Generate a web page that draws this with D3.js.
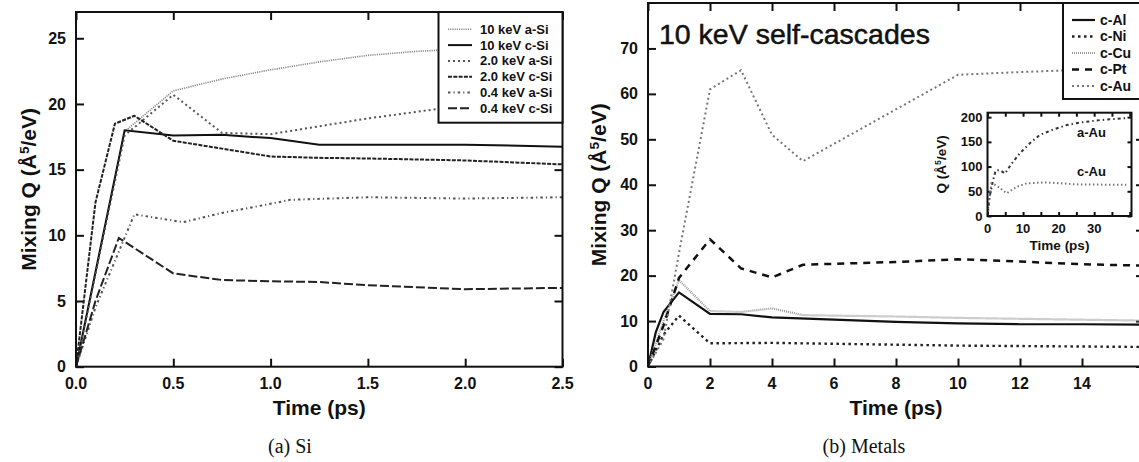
<!DOCTYPE html>
<html><head><meta charset="utf-8">
<script src="https://cdn.jsdelivr.net/npm/d3@7"></script>
<style>body{margin:0;background:#fff}svg{display:block}text{font-family:"Liberation Sans",Arial,sans-serif}text.cap{font-family:"Liberation Serif","DejaVu Serif",serif}</style>
</head><body>
<svg id="c" width="1139" height="462"></svg>
<script>
// ---------- DATA ----------
// Panel (a) Si : [time ps, Q]
const si10a = [[0,0],[0.25,17.9],[0.5,21.0],[0.75,21.9],[1.0,22.6],[1.25,23.2],[1.5,23.7],[1.75,24.0],[2.0,24.2],[2.25,24.5],[2.5,24.7]];
const si10c = [[0,0],[0.25,18.0],[0.5,17.6],[0.75,17.65],[1.0,17.4],[1.25,16.9],[1.5,16.9],[2.0,16.9],[2.5,16.75]];
const si2a  = [[0,0],[0.25,17.6],[0.5,20.7],[0.75,17.8],[1.0,17.7],[1.25,18.3],[1.5,18.9],[1.75,19.4],[2.0,19.9],[2.25,20.3],[2.5,20.6]];
const si2c  = [[0,0],[0.1,12.5],[0.2,18.5],[0.3,19.1],[0.5,17.2],[0.75,16.6],[1.0,16.0],[1.25,15.9],[1.5,15.85],[2.0,15.7],[2.5,15.4]];
const si04a = [[0,0],[0.1,4.5],[0.3,11.6],[0.55,11.0],[0.75,11.7],[1.0,12.4],[1.1,12.7],[1.5,12.9],[2.0,12.8],[2.5,12.9]];
const si04c = [[0,0],[0.1,5.0],[0.22,9.8],[0.5,7.1],[0.75,6.6],[1.0,6.5],[1.25,6.45],[1.5,6.2],[1.75,6.05],[2.0,5.9],[2.25,5.95],[2.5,6.0]];
const siNames = ["10 keV a-Si","10 keV c-Si","2.0 keV a-Si","2.0 keV c-Si","0.4 keV a-Si","0.4 keV c-Si"];
const siXTicks = [0,0.5,1.0,1.5,2.0,2.5];
const siYTicks = [0,5,10,15,20,25];

// Panel (b) Metals
const mAl = [[0,0],[0.25,7.5],[0.5,12],[1,16.3],[2,11.6],[3,11.5],[4,10.8],[6,10.3],[8,9.8],[10,9.5],[12,9.3],[14,9.3],[16,9.2]];
const mNi = [[0,0],[0.5,7],[1,11.2],[2,5.1],[4,5.2],[6,5.0],[8,4.8],[10,4.6],[12,4.5],[14,4.4],[16,4.3]];
const mCu = [[0,0],[0.5,10],[1,19],[2,12.2],[3,12],[4,12.8],[5,11.3],[6,11.2],[8,11],[10,10.7],[12,10.5],[14,10.3],[16,10.1]];
const mPt = [[0,0],[0.5,9],[1,19.5],[2,28],[3,21.6],[4,19.6],[5,22.4],[6,22.6],[8,23],[10,23.6],[12,23.1],[14,22.5],[16,22.2]];
const mAu = [[0,0],[0.5,6],[1,25],[2,61],[3,65.2],[4,51],[5,45.2],[10,64.2],[12,64.8],[14,65.3],[16,65.8]];
const mNames = ["c-Al","c-Ni","c-Cu","c-Pt","c-Au"];
const mXTicks = [0,2,4,6,8,10,12,14,16];
const mXLabels = [0,2,4,6,8,10,12,14];
const mYTicks = [0,10,20,30,40,50,60,70];

// Inset
const inAAu = [[0,0],[0.2,12],[0.6,39],[1.6,73],[2.3,92],[3.5,93],[4.9,86],[6.8,106],[9.1,127],[11.9,147],[14.7,164],[18.5,175],[22.3,184],[26,189],[31.6,194],[39,198]];
const inCAu = [[0,0],[0.2,18],[1.1,66],[2.5,62],[5.4,46],[8.2,59],[11,66],[16.6,68],[25,64],[39,63]];
const inNames = ["a-Au","c-Au"];
const inXTicks = [0,5,10,15,20,25,30,35,40];
const inXLabels = [0,10,20,30];
const inYTicks = [0,50,100,150,200];

// ---------- DRAW ----------
const svg = d3.select("#c");
let clipId = 0;

function panel(o){
  const x = d3.scaleLinear().domain(o.xd).range([o.x0,o.x1]);
  const y = d3.scaleLinear().domain(o.yd).range([o.y1,o.y0]);
  const g = svg.append("g");
  const id = "clip"+(clipId++);
  svg.append("clipPath").attr("id",id).append("rect")
    .attr("x",o.x0).attr("y",o.y0).attr("width",o.x1-o.x0).attr("height",o.y1-o.y0);
  const tl = o.tick;
  const ax = (gen, tr, vals) => {
    const a = g.append("g").attr("transform",tr).call(gen.tickValues(vals).tickSizeInner(-tl).tickSizeOuter(0).tickFormat(""));
    a.select(".domain").remove();
    a.selectAll("line").attr("stroke","#111").attr("stroke-width",o.sw);
  };
  ax(d3.axisBottom(x), `translate(0,${o.y1})`, o.xt);
  ax(d3.axisTop(x), `translate(0,${o.y0})`, o.xt);
  ax(d3.axisLeft(y), `translate(${o.x0},0)`, o.yt);
  ax(d3.axisRight(y), `translate(${o.x1},0)`, o.yt);
  g.selectAll(null).data(o.xl).join("text")
    .attr("x",d=>x(d)).attr("y",o.y1+o.xlOff).attr("text-anchor","middle")
    .attr("font-size",o.fs).attr("font-weight","bold").attr("fill","#111").text(o.xf);
  g.selectAll(null).data(o.yt).join("text")
    .attr("x",o.x0-o.ylOff).attr("y",d=>y(d)).attr("dy","0.35em").attr("text-anchor","end")
    .attr("font-size",o.fs).attr("font-weight","bold").attr("fill","#111").text(d=>d);
  const line = d3.line().x(d=>x(d[0])).y(d=>y(d[1]));
  o.series.forEach(s=>{
    g.append("path").attr("d",line(s.data)).attr("fill","none")
      .attr("stroke",s.c).attr("stroke-width",s.w).attr("stroke-dasharray",s.dash||null)
      .attr("clip-path",`url(#${id})`);
  });
  g.append("rect").attr("x",o.x0).attr("y",o.y0).attr("width",o.x1-o.x0).attr("height",o.y1-o.y0)
    .attr("fill","none").attr("stroke","#111").attr("stroke-width",o.sw);
  g.append("text").attr("x",(o.x0+o.x1)/2).attr("y",o.y1+o.xtOff).attr("text-anchor","middle")
    .attr("font-size",o.tfs).attr("font-weight","bold").attr("fill","#111").text("Time (ps)");
  const yt = g.append("text").attr("transform",`translate(${o.ytx},${(o.y0+o.y1)/2}) rotate(-90)`)
    .attr("text-anchor","middle").attr("font-size",o.tfs).attr("font-weight","bold").attr("fill","#111");
  yt.append("tspan").text(o.yPre+" (Å");
  yt.append("tspan").attr("baseline-shift","super").attr("font-size",o.tfs*0.65).text("5");
  yt.append("tspan").text("/eV)");
  return {x,y,g};
}

// Panel (a)
const siStyles = [
  {c:"#8a8a8a",w:1.6,dash:"1.2,1"},
  {c:"#111",w:2},
  {c:"#555",w:2,dash:"2,3"},
  {c:"#222",w:2,dash:"4,1.3"},
  {c:"#555",w:2,dash:"2.5,3,1.2,3"},
  {c:"#222",w:2,dash:"9,3"}
];
const siData = [si10a,si10c,si2a,si2c,si04a,si04c];
panel({x0:76,x1:562.5,y0:12,y1:366.7,xd:[0,2.5],yd:[0,27],xt:siXTicks,xl:siXTicks,yt:siYTicks,
  xf:d=>d3.format(".1f")(d),tick:8,sw:2,fs:16,tfs:21,xlOff:22,ylOff:10,xtOff:48,ytx:36,yPre:"Mixing Q",
  series:siData.map((d,i)=>Object.assign({data:d},siStyles[i]))});

const lgA = svg.append("g");
lgA.append("rect").attr("x",438.5).attr("y",12).attr("width",124).attr("height",110.7)
  .attr("fill","#fff").attr("stroke","#111").attr("stroke-width",2);
siNames.forEach((n,i)=>{
  const yy = 29.3 + i*15.8;
  lgA.append("line").attr("x1",448).attr("x2",472).attr("y1",yy).attr("y2",yy)
    .attr("stroke",siStyles[i].c).attr("stroke-width",siStyles[i].w).attr("stroke-dasharray",siStyles[i].dash||null);
  lgA.append("text").attr("x",480).attr("y",yy).attr("dy","0.35em").attr("font-size",13)
    .attr("font-weight","bold").attr("fill","#111").text(n);
});

// Panel (b)
const mStyles = [
  {c:"#111",w:2.2},
  {c:"#222",w:2.4,dash:"2.5,3.5"},
  {c:"#9a9a9a",w:2.2,dash:"1,1"},
  {c:"#111",w:2.5,dash:"7,6"},
  {c:"#777",w:2,dash:"2,3"}
];
const mData = [mAl,mNi,mCu,mPt,mAu];
panel({x0:648,x1:1144,y0:3,y1:366.5,xd:[0,16],yd:[0,80],xt:mXTicks,xl:mXLabels,yt:mYTicks,
  xf:d=>d,tick:8,sw:2,fs:16,tfs:21,xlOff:22,ylOff:10,xtOff:48,ytx:606,yPre:"Mixing Q",
  series:mData.map((d,i)=>Object.assign({data:d},mStyles[i]))});

svg.append("text").attr("x",659).attr("y",44).attr("font-size",28.5).attr("fill","#111")
  .attr("stroke","#111").attr("stroke-width",0.5).text("10 keV self-cascades");

const lgB = svg.append("g");
lgB.append("rect").attr("x",1063).attr("y",3).attr("width",90).attr("height",96)
  .attr("fill","#fff").attr("stroke","#111").attr("stroke-width",2);
mNames.forEach((n,i)=>{
  const yy = 20 + i*16.5;
  lgB.append("line").attr("x1",1072).attr("x2",1095).attr("y1",yy).attr("y2",yy)
    .attr("stroke",mStyles[i].c).attr("stroke-width",mStyles[i].w).attr("stroke-dasharray",mStyles[i].dash||null);
  lgB.append("text").attr("x",1100).attr("y",yy).attr("dy","0.35em").attr("font-size",14)
    .attr("font-weight","bold").attr("fill","#111").text(n);
});

// Inset
const inStyles = [{c:"#333",w:2,dash:"3,3,1.5,3"},{c:"#777",w:2,dash:"1.5,2.5"}];
svg.append("rect").attr("x",987.5).attr("y",112.7).attr("width",144).attr("height",103.3).attr("fill","#fff");
const ins = panel({x0:987.5,x1:1131.5,y0:112.7,y1:216,xd:[0,40.5],yd:[0,209],xt:inXTicks,xl:inXLabels,yt:inYTicks,
  xf:d=>d,tick:4,sw:2,fs:13,tfs:13.5,xlOff:17,ylOff:5,xtOff:34,ytx:946,yPre:"Q",
  series:[inAAu,inCAu].map((d,i)=>Object.assign({data:d},inStyles[i]))});
ins.g.append("text").attr("x",1091.5).attr("y",132.7).attr("dy","0.35em").attr("text-anchor","middle")
  .attr("font-size",13).attr("font-weight","bold").attr("fill","#111").text(inNames[0]);
ins.g.append("text").attr("x",1091.5).attr("y",171.7).attr("dy","0.35em").attr("text-anchor","middle")
  .attr("font-size",13).attr("font-weight","bold").attr("fill","#111").text(inNames[1]);

// captions
svg.append("text").attr("class","cap").attr("x",290).attr("y",453).attr("text-anchor","middle").attr("font-size",20)
  .attr("fill","#111").text("(a) Si");
svg.append("text").attr("class","cap").attr("x",864).attr("y",453).attr("text-anchor","middle").attr("font-size",20)
  .attr("fill","#111").text("(b) Metals");
</script>
</body></html>
